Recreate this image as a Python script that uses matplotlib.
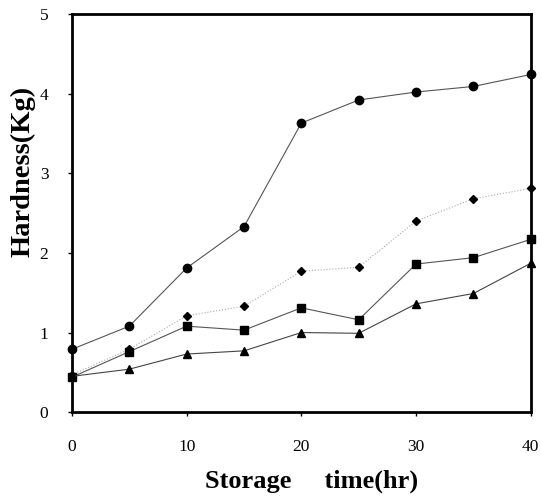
import matplotlib.pyplot as plt
import numpy as np

plt.rcParams['font.family'] = ['Liberation Serif', 'DejaVu Serif']

# storage time (hr)
time = [0, 5, 10, 15, 20, 25, 30, 35, 40]

# hardness (Kg) for the four treatments
circle = [0.79, 1.08, 1.81, 2.33, 3.63, 3.92, 4.02, 4.09, 4.24]
diamond = [0.47, 0.79, 1.21, 1.33, 1.77, 1.82, 2.40, 2.68, 2.81]
square = [0.44, 0.76, 1.08, 1.03, 1.31, 1.16, 1.86, 1.94, 2.17]
triangle = [0.45, 0.54, 0.73, 0.77, 1.00, 0.99, 1.36, 1.49, 1.87]

xticks = [0, 10, 20, 30, 40]
yticks = [0, 1, 2, 3, 4, 5]

fig = plt.figure(figsize=(5.41, 4.99), dpi=100)
ax = fig.add_axes([0.133, 0.174, 0.848, 0.798])

ax.plot(time, circle, color='#555555', lw=0.8, marker='o', ms=6,
        mfc='black', mec='black', clip_on=False)
ax.plot(time, diamond, color='#aaaaaa', lw=0.8, ls=':', marker='D', ms=4.5,
        mfc='black', mec='black', clip_on=False)
ax.plot(time, square, color='#555555', lw=0.8, marker='s', ms=6,
        mfc='black', mec='black', clip_on=False)
ax.plot(time, triangle, color='#444444', lw=0.8, marker='^', ms=6,
        mfc='black', mec='black', clip_on=False)

ax.set_xlim(0, 40)
ax.set_ylim(0, 5)
ax.set_xticks(xticks)
ax.set_yticks(yticks)
ax.tick_params(direction='out', length=3, width=1, labelsize=12.5)
ax.tick_params(axis='x', pad=16)
ax.tick_params(axis='y', pad=14)

for s in ax.spines.values():
    s.set_linewidth(2)

ax.set_xlabel('Storage     time(hr)', fontsize=19, fontweight='bold')
ax.xaxis.set_label_coords(0.523, -0.143)
ax.set_ylabel('Hardness(Kg)', fontsize=20.5, fontweight='bold')
ax.yaxis.set_label_coords(-0.079, 0.605)

fig.savefig('out.png', dpi=100)
